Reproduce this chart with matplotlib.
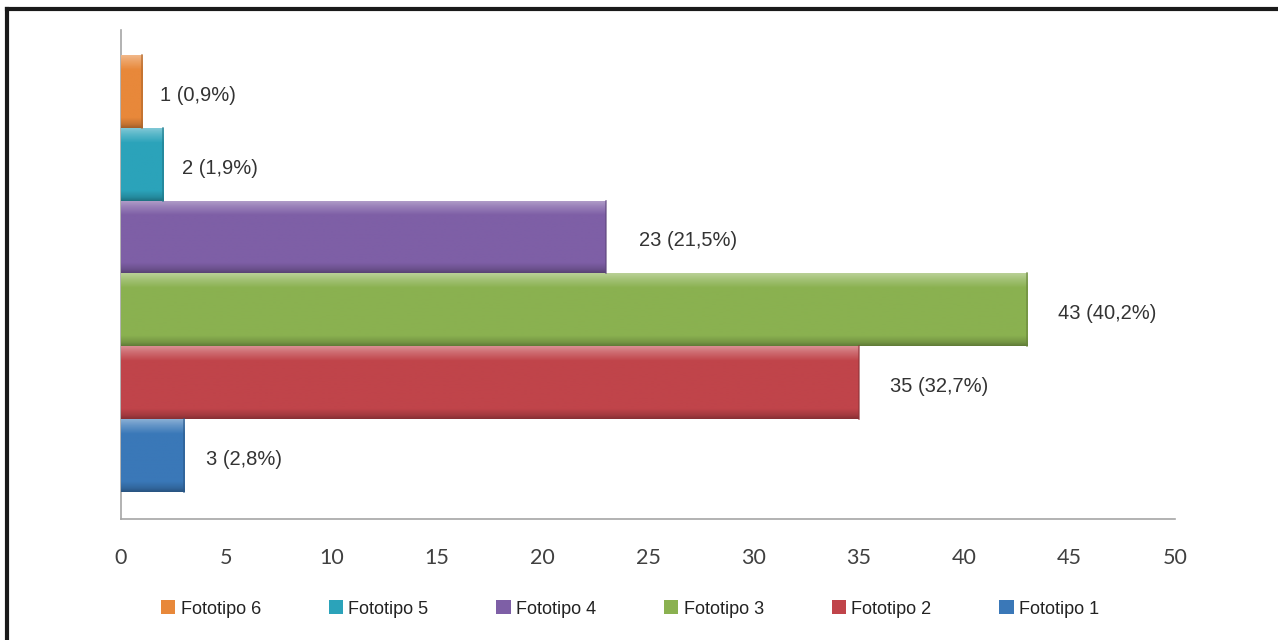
import matplotlib
matplotlib.use("Agg")
import matplotlib.pyplot as plt
from matplotlib.patches import Patch
from matplotlib.lines import Line2D
import matplotlib.colors as mcolors
import numpy as np

# data
categories = ["Fototipo 1", "Fototipo 2", "Fototipo 3", "Fototipo 4", "Fototipo 5", "Fototipo 6"]
counts = [3, 35, 43, 23, 2, 1]
labels = ["3 (2,8%)", "35 (32,7%)", "43 (40,2%)", "23 (21,5%)", "2 (1,9%)", "1 (0,9%)"]
colors = ["#3a78b8", "#c0444a", "#8ab150", "#7e5fa6", "#2ba3ba", "#e8883a"]
x_ticks = [0, 5, 10, 15, 20, 25, 30, 35, 40, 45, 50]

narrow = ["Liberation Sans Narrow", "Liberation Sans", "DejaVu Sans"]


def bar_gradient(color, n=100):
    '''smooth vertical shading to mimic the bevelled excel bars'''
    base = np.array(mcolors.to_rgb(color))
    t = np.linspace(0, 1, n)
    # key points: dark bottom edge, base body, light top edge
    pos = [0.0, 0.05, 0.14, 0.80, 0.92, 1.0]
    fac = [-0.30, -0.15, 0.0, 0.0, 0.22, 0.40]
    f = np.interp(t, pos, fac)
    rows = []
    for v in f:
        if v < 0:
            c = base * (1 + v)
        else:
            c = base + (1 - base) * v
        rows.append(np.clip(c, 0, 1))
    return np.array(rows).reshape(n, 1, 3)


fig = plt.figure(figsize=(12.78, 6.4), dpi=100)
ax = fig.add_axes([121 / 1278, 1 - 519 / 640, (1175 - 121) / 1278, (519 - 30) / 640])

y = np.arange(len(categories))
bars = ax.barh(y, counts, height=1.0, color=colors, edgecolor="none", zorder=2)

for rect, col in zip(bars, colors):
    x0, y0 = rect.get_x(), rect.get_y()
    w, h = rect.get_width(), rect.get_height()
    im = ax.imshow(bar_gradient(col), extent=[x0, x0 + w, y0, y0 + h],
                   origin="lower", aspect="auto", zorder=3, interpolation="bilinear")
    im.set_clip_path(rect)
    # darker right edge like the shadowed bars
    dark = np.array(mcolors.to_rgb(col)) * 0.75
    ax.plot([x0 + w, x0 + w], [y0, y0 + h], color=dark, lw=1.2, alpha=0.7, zorder=4)

offsets = [22, 31, 31, 33, 19, 18]
for yi, val, lab, off in zip(y, counts, labels, offsets):
    ax.annotate(lab, xy=(val, yi), xytext=(off, -4), textcoords="offset pixels",
                va="center", ha="left", fontsize=14.5, color="#333333", family=narrow)

ax.set_xlim(0, 50)
ax.set_ylim(-0.87, 5.84)
ax.set_xticks(x_ticks)
ax.set_yticks([])
ax.tick_params(axis="x", length=0, pad=21, labelsize=15.5, labelcolor="#404040")
for lbl in ax.get_xticklabels():
    lbl.set_family(["Lato", "DejaVu Sans"])
ax.spines["top"].set_visible(False)
ax.spines["right"].set_visible(False)
ax.spines["left"].set_color("#a6a6a6")
ax.spines["bottom"].set_color("#a6a6a6")
ax.spines["left"].set_linewidth(1.2)
ax.spines["bottom"].set_linewidth(1.2)

# legend, Fototipo 6 first
handles = [Patch(facecolor=c, edgecolor="none") for c in colors[::-1]]
leg = fig.legend(handles, categories[::-1], loc="center", ncol=6,
                 bbox_to_anchor=(630 / 1278, 1 - 609 / 640), frameon=False,
                 prop={"family": narrow, "size": 13}, handlelength=0.8, handleheight=0.8,
                 handletextpad=0.3, columnspacing=3.75)
for t in leg.get_texts():
    t.set_color("#222222")

# black frame (top and left edges of the cropped figure)
fig.add_artist(Line2D([7 / 1278, 1], [1 - 9 / 640, 1 - 9 / 640], color="#1a1a1a", lw=3, transform=fig.transFigure))
fig.add_artist(Line2D([7 / 1278, 7 / 1278], [0, 1 - 9 / 640], color="#1a1a1a", lw=3, transform=fig.transFigure))

fig.savefig("out.png", dpi=100)
